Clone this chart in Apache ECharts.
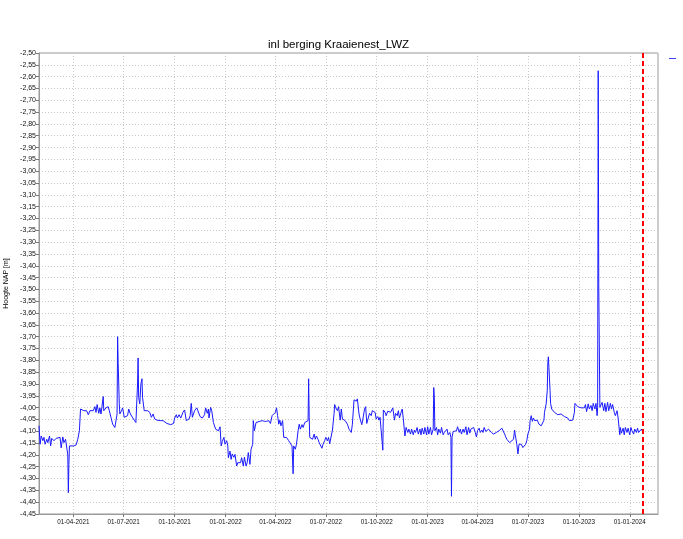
<!DOCTYPE html>
<html>
<head>
<meta charset="utf-8">
<script src="https://cdn.jsdelivr.net/npm/echarts@6/dist/echarts.min.js"></script>
<style>
  html, body { margin: 0; padding: 0; background: #fff; }
  #chart { width: 683px; height: 539px; }
</style>
</head>
<body>
<div id="chart"></div>
<script>
// ---- data ----
const chartTitle = 'inl berging Kraaienest_LWZ';
const yAxisName = 'Hoogte NAP [m]';
const baseDate = '2021-04-01';          // day offsets below are relative to this date
const axisStart = '2021-01-29';
const axisEnd = '2024-02-21';
const markerDate = '2024-01-25';        // red dashed vertical line
const tickDates = ['2021-04-01','2021-07-01','2021-10-01','2022-01-01','2022-04-01','2022-07-01',
                   '2022-10-01','2023-01-01','2023-04-01','2023-07-01','2023-10-01','2024-01-01'];
const yMin = -4.45, yMax = -2.50, yStep = 0.05;

const dayOffsets = [
  -62,-60,-58,-55,-53,-51,-48,-46,-43,-41,-39,-35,-31,-28,-24,-22,-19,-17,-14,-12,
  -10,-9,-8,-7,-4,1,5,8,11,13,16,19,24,27,30,33,36,39,41,43,
  46,48,50,54,55,59,63,65,68,71,75,77,79,80,81,83,84,87,89,92,
  95,98,100,103,106,110,113,115,116,117,118,120,122,124,125,128,130,134,138,141,
  144,147,151,154,158,162,165,169,172,176,178,181,183,186,188,191,194,198,201,204,
  206,209,211,213,215,217,219,223,
  226,229,233,237,239,242,244,245,248,250,253,255,257,260,262,265,267,269,272,274,
  277,279,280,283,285,287,290,292,295,297,300,302,304,307,309,312,314,316,319,321,
  324,325,327,330,333,337,341,345,349,353,356,359,362,365,367,369,371,373,375,378,
  380,383,385,389,392,395,397,398,401,403,406,408,410,413,415,418,421,424,425,426,
  427,430,432,435,437,439,442,444,447,449,451,454,456,459,461,463,466,468,471,472,
  474,477,479,482,484,486,489,491,495,498,502,504,507,509,
  511,513,516,518,521,523,526,528,530,533,535,538,540,542,545,547,550,552,554,557,
  559,560,563,565,568,570,573,575,577,580,582,585,587,589,592,594,596,598,599,601,
  604,606,609,611,614,616,618,621,623,626,628,630,633,635,638,640,642,645,647,650,
  651,652,653,656,658,660,663,665,668,670,673,675,677,680,682,683,684,686,689,692,
  694,697,699,701,704,706,709,711,714,716,718,721,723,726,728,730,733,735,738,740,
  742,745,747,750,752,755,757,759,762,764,767,769,771,774,776,779,781,783,786,788,
  791,
  795,797,798,801,803,805,807,809,812,814,817,819,821,824,825,827,829,831,833,836,
  838,841,843,845,848,850,851,854,856,857,858,859,861,862,864,866,869,872,875,878,
  881,884,887,890,893,896,899,902,905,906,908,911,914,917,920,923,925,927,930,932,
  935,937,939,942,944,946,947,948,949,951,953,955,958,960,962,965,967,970,972,974,
  977,979,982,984,987,988,990,993,995,997,1000,1002,1005,1007,1009,1012,1014,1017,1019,1021,
  1024,1026,1029
];

const levels = [
  -4.077,-4.155,-4.12,-4.14,-4.126,-4.155,-4.134,-4.148,-4.12,-4.162,-4.13,-4.14,-4.13,-4.138,-4.126,-4.17,-4.124,-4.148,-4.134,-4.14,
  -4.2,-4.36,-4.24,-4.162,-4.155,-4.162,-4.158,-4.134,-4.098,-4.006,-4.001,-4.013,-4.013,-4.03,-4.013,-4.006,-4.013,-3.996,-4.02,-3.987,
  -4.024,-4.001,-4.027,-3.953,-4.013,-4.001,-3.996,-4.013,-4.041,-4.07,-4.084,-4.091,-4.027,-3.70,-3.814,-3.984,-4.027,-4.013,-4.001,-4.041,
  -4.034,-4.034,-4.006,-4.027,-4.027,-4.053,-4.063,-4.055,-3.90,-3.79,-3.956,-3.984,-3.90,-3.878,-3.956,-4.013,-4.006,-4.013,-4.02,-4.041,
  -4.027,-4.048,-4.053,-4.048,-4.055,-4.055,-4.058,-4.067,-4.063,-4.072,-4.075,-4.067,-4.044,-4.03,-4.044,-4.03,-4.044,-4.02,-4.01,-4.055,
  -4.048,-4.048,-4.034,-3.982,-4.041,-4.041,-4.013,-4.001,
  -3.999,-4.038,-4.044,-4.03,-4.001,-4.024,-4.006,-4.044,-3.999,-4.013,-4.063,-4.055,-4.091,-4.084,-4.098,-4.081,-4.162,-4.143,-4.126,-4.155,
  -4.14,-4.162,-4.212,-4.184,-4.219,-4.196,-4.21,-4.198,-4.247,-4.233,-4.24,-4.233,-4.212,-4.247,-4.21,-4.247,-4.233,-4.19,-4.24,-4.176,
  -4.155,-4.055,-4.098,-4.063,-4.063,-4.058,-4.055,-4.058,-4.058,-4.055,-4.067,-4.034,-4.041,-4.02,-4.001,-4.034,-4.07,-4.053,-4.077,-4.055,
  -4.126,-4.134,-4.126,-4.14,-4.134,-4.162,-4.28,-4.162,-4.176,-4.155,-4.098,-4.07,-4.091,-4.072,-4.084,-4.063,-4.067,-4.055,-3.878,-4.041,
  -4.126,-4.124,-4.134,-4.112,-4.134,-4.12,-4.134,-4.148,-4.155,-4.172,-4.155,-4.14,-4.126,-4.14,-4.126,-4.153,-4.148,-4.095,-4.024,-3.987,
  -4.001,-4.013,-3.996,-4.053,-4.006,-4.048,-4.048,-4.055,-4.07,-4.091,-4.105,-4.07,-3.967,-3.973,
  -3.973,-3.963,-4.027,-4.048,-4.072,-4.048,-4.006,-3.996,-4.067,-4.072,-4.024,-4.034,-4.013,-4.006,-4.02,-4.048,-4.038,-4.053,-4.041,-4.044,
  -4.18,-4.01,-4.02,-4.034,-4.015,-4.01,-4.02,-4.013,-4.001,-4.053,-4.024,-4.034,-4.013,-4.044,-4.02,-4.006,-4.048,-4.098,-4.12,-4.084,
  -4.105,-4.091,-4.112,-4.091,-4.115,-4.095,-4.105,-4.084,-4.112,-4.091,-4.115,-4.087,-4.112,-4.084,-4.115,-4.081,-4.112,-4.084,-4.115,-4.091,
  -3.915,-3.956,-4.098,-4.084,-4.115,-4.091,-4.108,-4.084,-4.115,-4.105,-4.112,-4.091,-4.115,-4.105,-4.126,-4.375,-4.126,-4.101,-4.108,-4.098,
  -4.081,-4.105,-4.091,-4.112,-4.091,-4.105,-4.081,-4.115,-4.084,-4.108,-4.091,-4.098,-4.084,-4.105,-4.124,-4.098,-4.087,-4.105,-4.095,-4.105,
  -4.084,-4.101,-4.095,-4.091,-4.084,-4.105,-4.098,-4.112,-4.115,-4.105,-4.112,-4.098,-4.091,-4.087,-4.095,-4.112,-4.124,-4.134,-4.14,-4.148,
  -4.155,
  -4.134,-4.095,-4.112,-4.155,-4.196,-4.155,-4.162,-4.155,-4.169,-4.162,-4.155,-4.14,-4.112,-4.091,-4.055,-4.034,-4.058,-4.044,-4.055,-4.058,
  -4.053,-4.07,-4.067,-4.077,-4.072,-4.053,-4.02,-3.984,-3.927,-3.81,-3.785,-3.831,-3.927,-3.982,-4.006,-4.01,-4.02,-4.024,-4.03,-4.034,
  -4.027,-4.034,-4.038,-4.034,-4.044,-4.055,-4.058,-4.053,-4.02,-3.982,-3.984,-3.996,-3.999,-4.001,-3.996,-4.001,-3.987,-4.017,-3.984,-4.006,
  -3.991,-4.013,-3.982,-4.006,-3.982,-4.034,-3.999,-2.575,-3.48,-3.999,-3.999,-3.978,-4.013,-3.982,-4.017,-3.978,-4.013,-3.982,-4.006,-3.987,
  -4.02,-4.034,-4.013,-4.044,-4.115,-4.084,-4.108,-4.087,-4.115,-4.084,-4.105,-4.087,-4.115,-4.084,-4.098,-4.112,-4.091,-4.105,-4.087,-4.105,
  -4.112,-4.091,-4.105
];

// ---- build ----
const DAY = 86400000;
function utc(s) { const p = s.split('-').map(Number); return Date.UTC(p[0], p[1] - 1, p[2]); }
const base = utc(baseDate);
const seriesData = dayOffsets.map((d, i) => [base + d * DAY, levels[i]]);
const tickValues = tickDates.map(utc);
function pad(n) { return (n < 10 ? '0' : '') + n; }
function fmtDate(v) {
  const d = new Date(v);
  return pad(d.getUTCDate()) + '-' + pad(d.getUTCMonth() + 1) + '-' + d.getUTCFullYear();
}

const chart = echarts.init(document.getElementById('chart'), null, { renderer: 'canvas' });
const FONT = 'Liberation Sans';
chart.setOption({
  animation: false,
  backgroundColor: '#ffffff',
  title: {
    text: chartTitle,
    left: 263,
    top: 34,
    textStyle: { fontFamily: FONT, fontSize: 11.5, fontWeight: 'normal', color: '#000' }
  },
  legend: {
    left: 664,
    top: 53,
    icon: 'rect',
    itemWidth: 7,
    itemHeight: 1,
    itemGap: 0,
    formatter: () => '',
    textStyle: { fontSize: 1 },
    data: [{ name: 'level', itemStyle: { color: '#4040ff' } }]
  },
  grid: {
    left: 39, right: 25, top: 53, bottom: 25,
    show: true, borderColor: '#9a9a9a', borderWidth: 1,
    containLabel: false, outerBoundsMode: 'none'
  },
  xAxis: {
    type: 'value',
    min: utc(axisStart),
    max: utc(axisEnd),
    scale: true,
    axisLine: { show: true, lineStyle: { color: '#9a9a9a', width: 1 } },
    axisTick: { show: true, length: 3, customValues: tickValues, lineStyle: { color: '#777' } },
    axisLabel: {
      customValues: tickValues,
      formatter: fmtDate,
      fontFamily: FONT, fontSize: 6.3, color: '#111', margin: 5,
      hideOverlap: false
    },
    splitLine: { show: true, lineStyle: { color: '#c8c8c8', type: [1, 2], width: 1 } }
  },
  yAxis: {
    type: 'value',
    min: yMin,
    max: yMax,
    interval: yStep,
    name: yAxisName,
    nameLocation: 'middle',
    nameGap: 27,
    nameRotate: 90,
    nameTextStyle: { fontFamily: FONT, fontSize: 7, color: '#000' },
    axisLine: { show: true, lineStyle: { color: '#9a9a9a', width: 1 } },
    axisTick: { show: true, length: 3, lineStyle: { color: '#777' } },
    axisLabel: {
      formatter: v => v.toFixed(2).replace('.', ','),
      fontFamily: FONT, fontSize: 7, color: '#111', margin: 3,
      showMinLabel: true, showMaxLabel: true, hideOverlap: false
    },
    splitLine: { show: true, lineStyle: { color: '#c8c8c8', type: [1, 2], width: 1 } }
  },
  series: [{
    name: 'level',
    type: 'line',
    data: seriesData,
    showSymbol: false,
    symbol: 'none',
    lineStyle: { color: '#1a1aff', width: 1 },
    itemStyle: { color: '#1a1aff' },
    markLine: {
      silent: true,
      symbol: ['none', 'none'],
      label: { show: false },
      lineStyle: { color: '#ff0000', type: [5, 3], width: 2 },
      data: [{ xAxis: utc(markerDate) }]
    }
  }]
});
</script>
</body>
</html>
